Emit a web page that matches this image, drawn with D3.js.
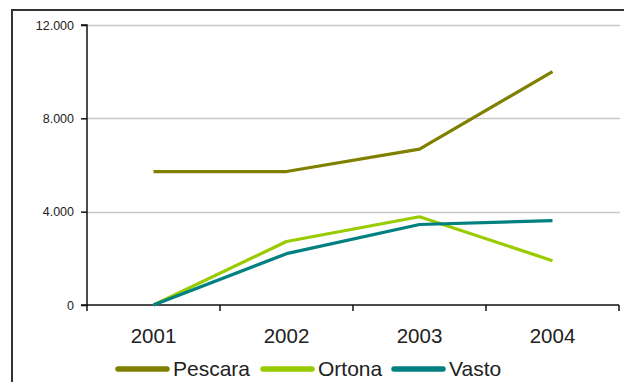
<!DOCTYPE html>
<html>
<head>
<meta charset="utf-8">
<script src="https://cdn.jsdelivr.net/npm/d3@7/dist/d3.min.js"></script>
<style>
  html, body { margin: 0; padding: 0; background: #fff; }
  svg { display: block; }
  svg text { font-family: "Liberation Sans", Arial, sans-serif; }
</style>
</head>
<body>
<svg id="chart" width="624" height="382"></svg>
<script>
// Years on the category axis
const years = ["2001", "2002", "2003", "2004"];
// Series values per town
const pescara = [5720, 5720, 6680, 10000];
const ortona  = [0, 2720, 3780, 1900];
const vasto   = [0, 2200, 3450, 3620];
// Y axis ticks and their labels
const yTicks = [0, 4000, 8000, 12000];
const yTickLabels = ["0", "4.000", "8.000", "12.000"];

const seriesNames = ["Pescara", "Ortona", "Vasto"];
const seriesColors = ["#808000", "#99cc00", "#008080"];
const seriesValues = [pescara, ortona, vasto];

const FONT = "'Liberation Sans', Arial, sans-serif";
const svg = d3.select("#chart");

// outer frame (extends past the visible area on the right and bottom)
svg.append("rect")
  .attr("x", 12).attr("y", 10)
  .attr("width", 640).attr("height", 400)
  .attr("fill", "none").attr("stroke", "#333").attr("stroke-width", 2);

const x = d3.scaleBand().domain(years).range([87, 619]);
const y = d3.scaleLinear().domain([0, 12000]).range([305, 25]);

// gridlines
svg.append("g").selectAll("line").data(yTicks.filter(d => d > 0)).join("line")
  .attr("x1", 87).attr("x2", 620)
  .attr("y1", d => Math.round(y(d)) + 0.5).attr("y2", d => Math.round(y(d)) + 0.5)
  .attr("stroke", "#c8c8c8").attr("stroke-width", 1.5);

// y axis
const yAxis = d3.axisLeft(y).tickValues(yTicks)
  .tickFormat((d, i) => yTickLabels[i]).tickSize(6).tickPadding(7);
const gy = svg.append("g").attr("transform", "translate(87,0)").call(yAxis)
  .attr("font-family", FONT);
gy.select(".domain").attr("stroke", "#111").attr("stroke-width", 1.5).attr("d", "M-6,25H0V305H-6");
gy.selectAll(".tick line").attr("stroke", "#111").attr("stroke-width", 1.5);
gy.selectAll(".tick text").attr("font-size", 12.5).attr("fill", "#222");

// x axis: ticks at band boundaries, labels at band centers
const gx = svg.append("g").attr("transform", "translate(0,305)");
gx.append("line").attr("x1", 87).attr("x2", 619).attr("y1", 0).attr("y2", 0)
  .attr("stroke", "#111").attr("stroke-width", 1.5);
const bounds = years.map(d => x(d)).concat([x.range()[1]]);
gx.selectAll("line.tk").data(bounds).join("line").attr("class", "tk")
  .attr("x1", d => d).attr("x2", d => d).attr("y1", 0).attr("y2", 6)
  .attr("stroke", "#111").attr("stroke-width", 1.5);
gx.selectAll("text").data(years).join("text")
  .attr("x", d => x(d) + x.bandwidth() / 2).attr("y", 38)
  .attr("text-anchor", "middle").attr("font-size", 20.5).attr("fill", "#222")
  .attr("font-family", FONT)
  .text(d => d);

// series lines
const line = d3.line()
  .x((d, i) => x(years[i]) + x.bandwidth() / 2)
  .y(d => y(d));
svg.append("g").selectAll("path").data(seriesValues).join("path")
  .attr("d", d => line(d))
  .attr("fill", "none")
  .attr("stroke", (d, i) => seriesColors[i])
  .attr("stroke-width", 3.2)
  .attr("stroke-linejoin", "round");

// legend
const legendX = [118, 263, 394];
const leg = svg.append("g");
seriesNames.forEach((name, i) => {
  leg.append("line")
    .attr("x1", legendX[i]).attr("x2", legendX[i] + 49)
    .attr("y1", 369).attr("y2", 369)
    .attr("stroke", seriesColors[i]).attr("stroke-width", 5.5)
    .attr("stroke-linecap", "round");
  leg.append("text")
    .attr("x", legendX[i] + 55).attr("y", 376)
    .attr("font-size", 21).attr("fill", "#222")
    .attr("font-family", FONT)
    .text(name);
});
</script>
</body>
</html>
